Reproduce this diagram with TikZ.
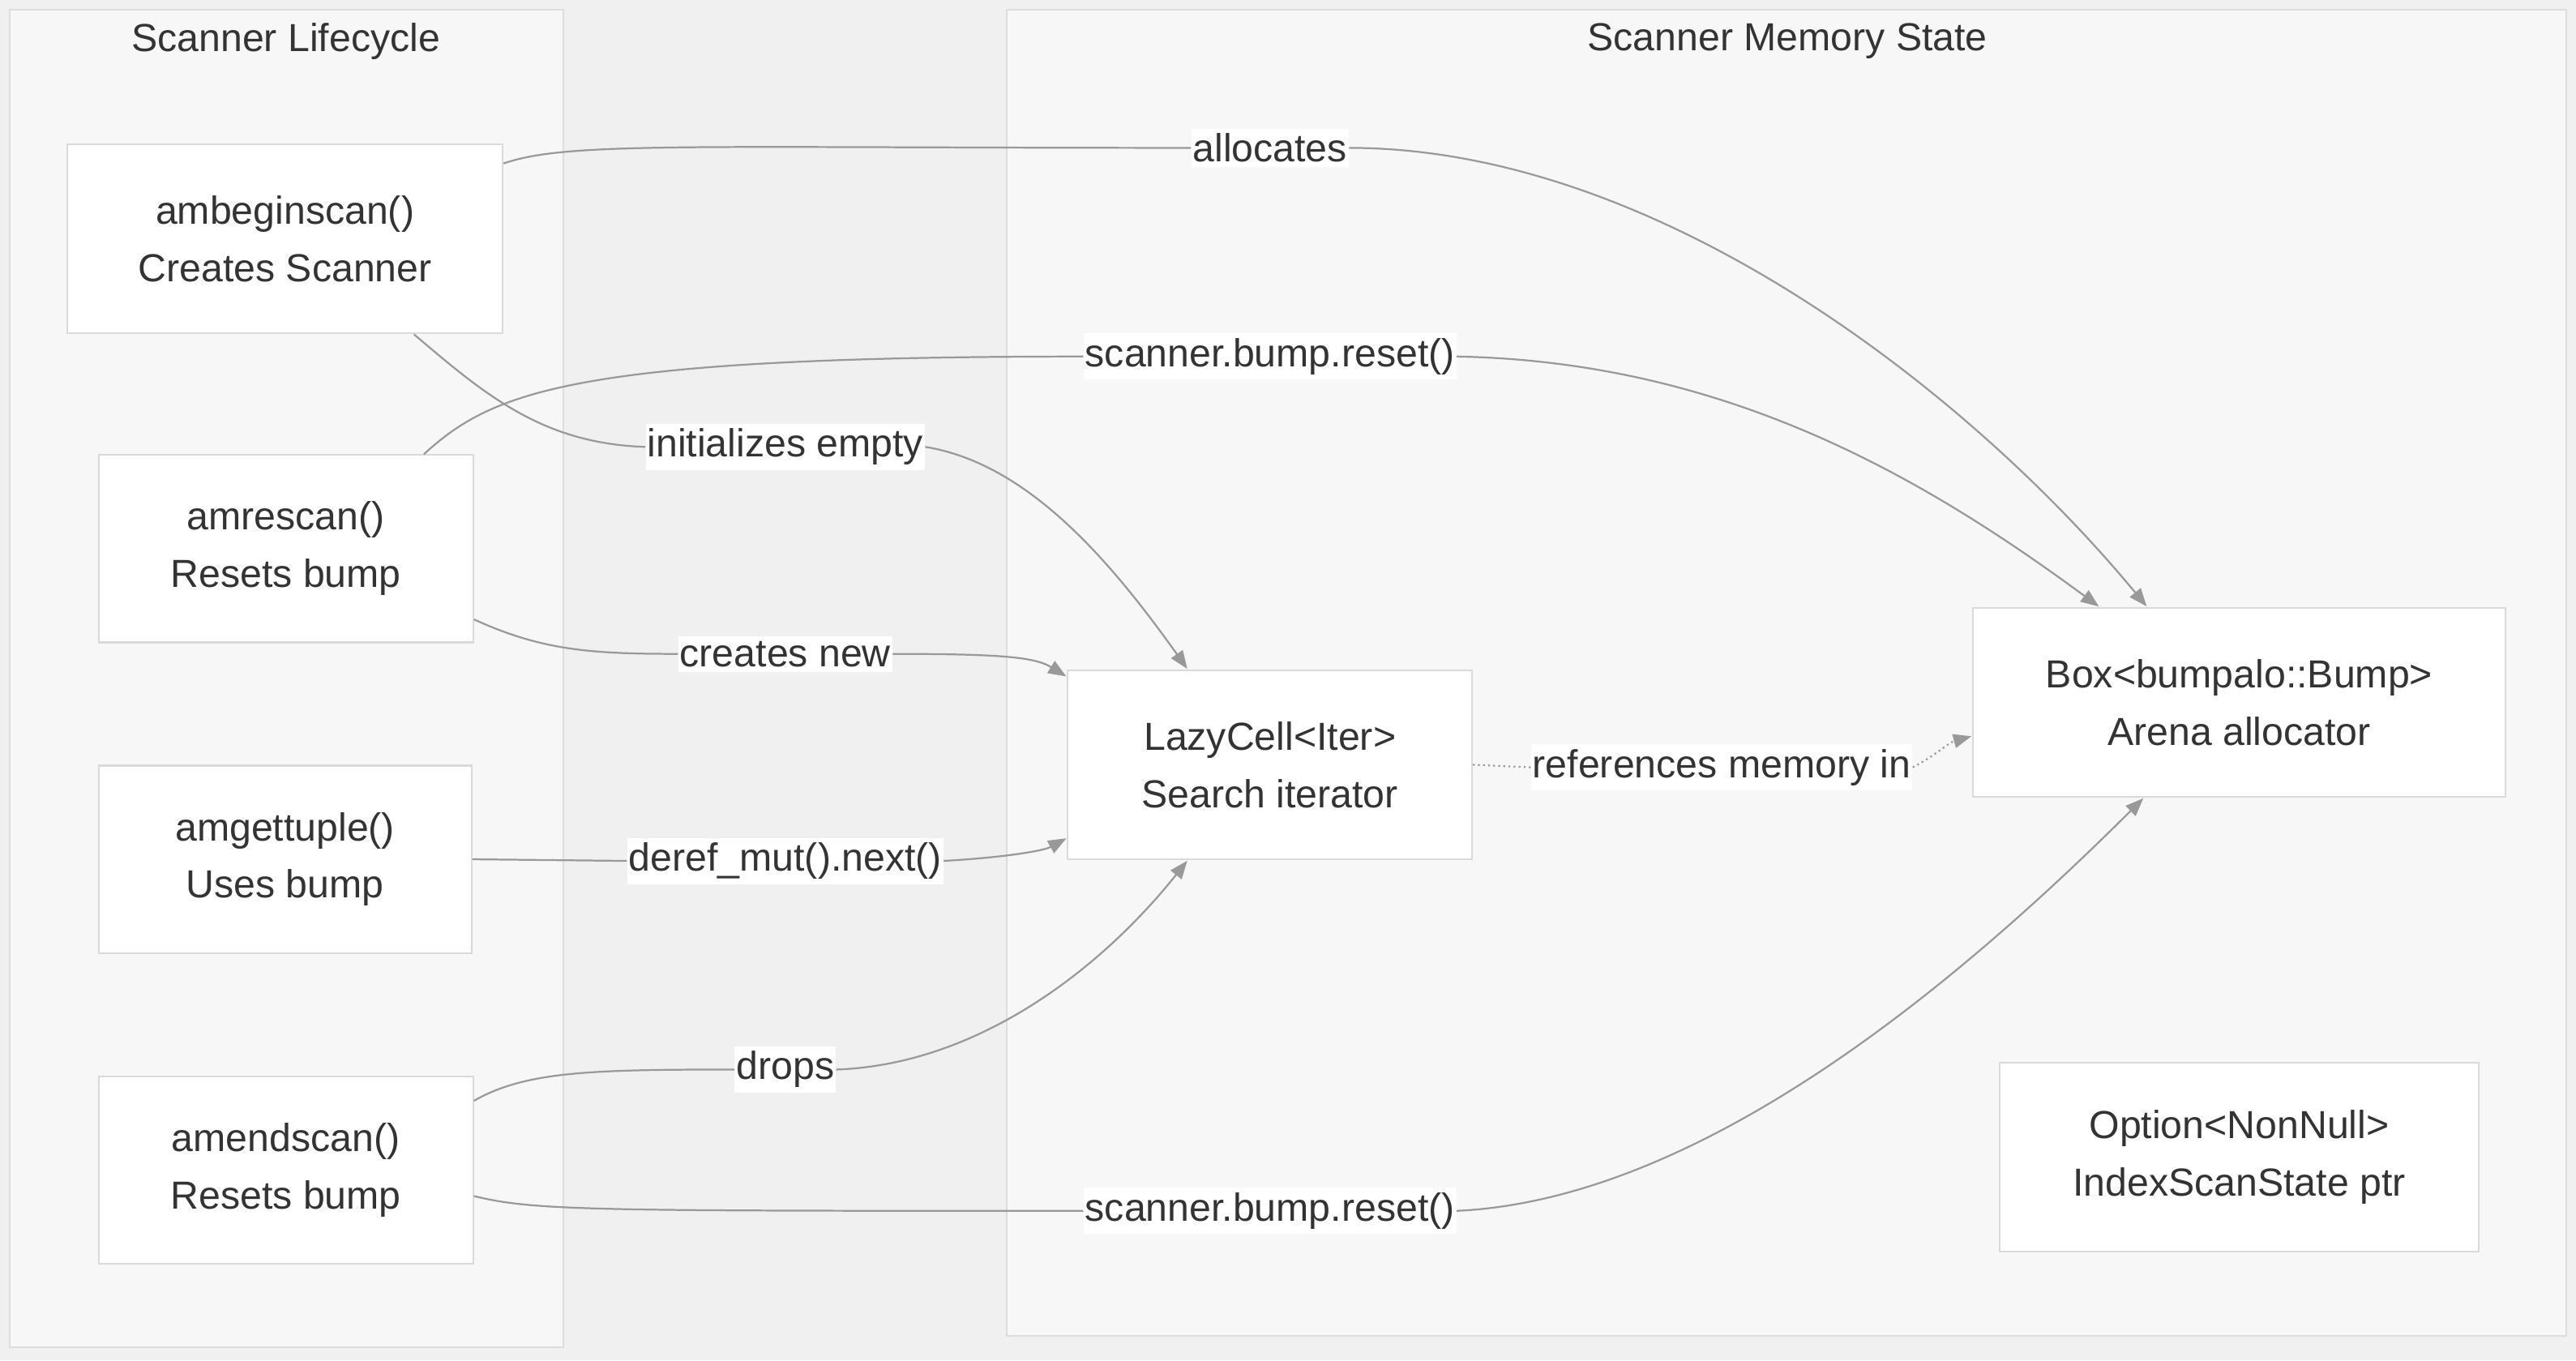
\documentclass[tikz,border=0pt]{standalone}
\usepackage{fontspec}
\setmainfont{Liberation Sans}
\usepackage{xcolor}
\definecolor{pagebg}{RGB}{240, 240, 240}
\definecolor{clusterfill}{RGB}{247, 247, 247}
\definecolor{clusterline}{RGB}{221, 221, 221}
\definecolor{boxline}{RGB}{218, 218, 218}
\definecolor{edgegray}{RGB}{153, 153, 153}
\definecolor{inktext}{RGB}{51, 51, 51}
\newcommand{\diagfont}{\fontsize{23.8}{35}\selectfont}
\usepackage{tikz}
\usetikzlibrary{arrows.meta}

\begin{document}
\begin{tikzpicture}[x=1pt, y=-1pt,
    cluster/.style={draw=clusterline, fill=clusterfill, line width=1pt},
    title/.style={font=\diagfont, text=inktext},
    box/.style={rectangle, draw=boxline, fill=white, line width=1pt, align=center, inner sep=0pt, font=\diagfont, text=inktext},
    lbl/.style={rectangle, fill=white, inner xsep=1pt, inner ysep=3pt, font=\diagfont, text=inktext},
    link/.style={line width=1.1pt, draw=edgegray},
    arrow/.style={link, -{Triangle[length=11pt, width=8.5pt]}, shorten >=0.5pt},
    weak/.style={arrow, dotted}
]
    % Fondo y grupos
    \fill[pagebg] (0,0) rectangle (1568,828);
    \draw[cluster] (6,6) rectangle (343,820);
    \draw[cluster] (613,6) rectangle (1562,813);
    \node (t_life) [title] at (174,25) {Scanner Lifecycle};
    \node (t_mem) [title] at (1088,25) {Scanner Memory State};

    % Nodes
    \node (begin) [box, minimum width=265pt, minimum height=115pt] at (173.5,145.5) {ambeginscan()\\Creates Scanner};
    \node (rescan) [box, minimum width=228pt, minimum height=114pt] at (174,334) {amrescan()\\Resets bump};
    \node (gettuple) [box, minimum width=227pt, minimum height=114pt] at (173.5,523) {amgettuple()\\Uses bump};
    \node (endscan) [box, minimum width=228pt, minimum height=114pt] at (174,712) {amendscan()\\Resets bump};
    \node (lazy) [box, minimum width=246pt, minimum height=115pt] at (773,465.5) {LazyCell<Iter>\\Search iterator};
    \node (bump) [box, minimum width=324pt, minimum height=115pt] at (1363,427.5) {Box<bumpalo::Bump>\\Arena allocator};
    \node (optptr) [box, minimum width=292pt, minimum height=115pt] at (1363,704.5) {Option<NonNull>\\IndexScanState ptr};

    % Etiquetas
    \node (l_alloc) [lbl] at (773,90) {allocates};
    \node (l_reset1) [lbl] at (773,217) {scanner.bump.reset()};
    \node (l_init) [lbl] at (478,272) {initializes empty};
    \node (l_new) [lbl] at (478,398) {creates new};
    \node (l_next) [lbl] at (478,524) {deref\_mut().next()};
    \node (l_drops) [lbl] at (478,651) {drops};
    \node (l_reset2) [lbl] at (773,737) {scanner.bump.reset()};
    \node (l_refs) [lbl] at (1048,467) {references memory in};

    % Connections
    \draw[arrow] ([yshift=46pt]begin.east) .. controls (345,86) and (420,90) .. (l_alloc.west)
        (l_alloc.east) .. controls (1010,90) and (1200,240) .. ([xshift=-56pt]bump.north);
    \draw[arrow] ([xshift=78.5pt]begin.south) .. controls (295,240) and (330,270) .. (l_init.west)
        (l_init.east) .. controls (625,282) and (675,340) .. ([xshift=-50pt]lazy.north);
    \draw[arrow] ([xshift=84pt]rescan.north) .. controls (300,238) and (350,217) .. (l_reset1.west)
        (l_reset1.east) .. controls (1050,220) and (1170,290) .. ([xshift=-85pt]bump.north);
    \draw[arrow] ([yshift=-43pt]rescan.east) .. controls (330,396) and (360,398) .. (l_new.west)
        (l_new.east) .. controls (610,398) and (630,400) .. ([yshift=53.5pt]lazy.west);
    \draw[arrow] (gettuple.east) -- (l_next.west)
        (l_next.east) .. controls (610,522) and (635,518) .. ([yshift=-44.5pt]lazy.west);
    \draw[arrow] ([yshift=42pt]endscan.east) .. controls (320,652) and (360,651) .. (l_drops.west)
        (l_drops.east) .. controls (595,648) and (670,590) .. ([xshift=-50pt]lazy.south);
    \draw[arrow] ([yshift=-16pt]endscan.east) .. controls (325,737) and (360,737) .. (l_reset2.west)
        (l_reset2.east) .. controls (1040,730) and (1200,590) .. ([xshift=-58pt]bump.south);
    \draw[weak] (lazy.east) -- (l_refs.west)
        (l_refs.east) .. controls (1178,460) and (1186,452) .. ([yshift=-20.5pt]bump.west);
\end{tikzpicture}
\end{document}
